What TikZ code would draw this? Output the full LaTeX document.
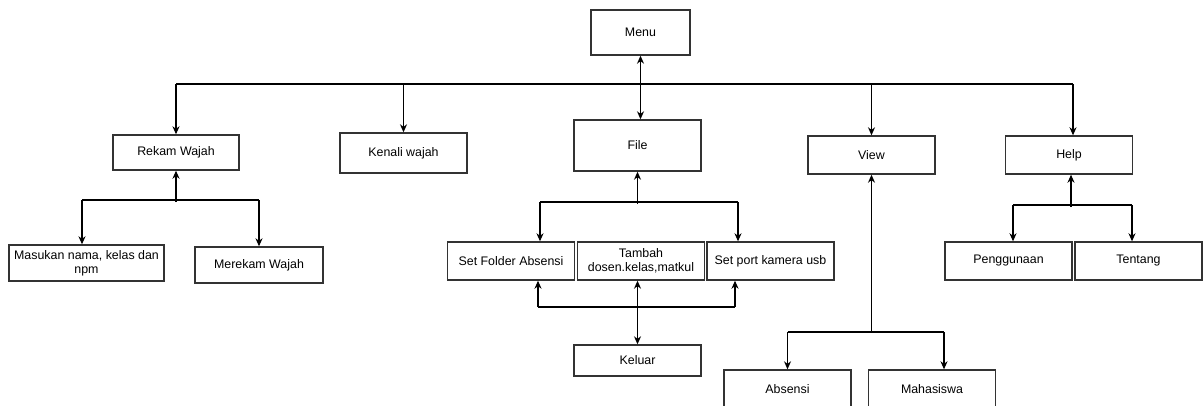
\documentclass[tikz,border=0pt]{standalone}
\usepackage{fontspec}
\setmainfont{Liberation Sans}
\usetikzlibrary{arrows.meta}

\tikzset{
  box/.style={draw=black!80, line width=1.4pt, fill=white, minimum width=127pt, minimum height=38pt,
    inner sep=1pt, align=center, font=\fontsize{12.4}{14}\selectfont},
  arr/.style={line width=1.2pt, -{Stealth[length=8pt, width=7pt, inset=2.5pt]}},
  darr/.style={line width=1.2pt, {Stealth[length=8pt, width=7pt, inset=2.5pt]}-{Stealth[length=8pt, width=7pt, inset=2.5pt]}},
  ln/.style={line width=1.2pt}
}

\begin{document}
\begin{tikzpicture}[x=1pt, y=-1pt]
\useasboundingbox (0,0) rectangle (1204,405);

\node (menu) at (640.5, 32.5) [box, minimum width=99pt, minimum height=45pt] {Menu};

\node (rekam) at (176, 152.5) [box, minimum width=126pt, minimum height=35pt] {Rekam Wajah};
\node (kenali) at (403.5, 153) [box, minimum height=40pt] {Kenali wajah};
\node (file) at (637.5, 145.5) [box, minimum height=51pt] {File};
\node (view) at (871.5, 155) [box] {View};
\node (help) at (1069, 155) [box] {Help};

\node (masukan) at (86.5, 263) [box, minimum width=155pt, minimum height=36pt] {Masukan nama, kelas dan\\npm};
\node (merekam) at (259, 265) [box, minimum width=128pt, minimum height=36pt] {Merekam Wajah};

\node (folder) at (511, 261) [box] {Set Folder Absensi};
\node (tambah) at (641, 261) [box] {Tambah\\dosen.kelas,matkul};
\node (port) at (770.5, 261) [box] {Set port kamera usb};
\node (keluar) at (637.5, 360.5) [box, minimum height=31pt] {Keluar};

\node (absensi) at (787.5, 389) [box] {Absensi};
\node (mhs) at (932, 389) [box] {Mahasiswa};

\node (guna) at (1008.5, 261) [box] {Penggunaan};
\node (tentang) at (1138.5, 261) [box] {Tentang};

% menu bar
\coordinate (bus) at (640.5, 84);
\draw[darr] (menu.south) -- (menu.south |- file.north);
\draw[ln] (rekam.north |- bus) -- ([xshift=4pt]help.north |- bus);
\draw[arr] (rekam.north |- bus) -- (rekam.north);
\draw[arr] (kenali.north |- bus) -- (kenali.north);
\draw[arr] (view.north |- bus) -- (view.north);
\draw[arr] ([xshift=4pt]help.north |- bus) -- ([xshift=4pt]help.north);

% rekam wajah
\coordinate (rb) at (176, 200);
\draw[arr] ([yshift=-2pt]rb) -- (rekam.south);
\draw[ln] ([xshift=-4.5pt]masukan.north |- rb) -- (merekam.north |- rb);
\draw[arr] ([xshift=-4.5pt]masukan.north |- rb) -- ([xshift=-4.5pt]masukan.north);
\draw[arr] (merekam.north |- rb) -- (merekam.north);

% file
\coordinate (fb) at (637.5, 202);
\draw[arr] ([yshift=-2pt]fb) -- (file.south);
\draw[ln] ([xshift=29pt]folder.north |- fb) -- ([xshift=-32.5pt]port.north |- fb);
\draw[arr] ([xshift=29pt]folder.north |- fb) -- ([xshift=29pt]folder.north);
\draw[arr] ([xshift=-32.5pt]port.north |- fb) -- ([xshift=-32.5pt]port.north);

\coordinate (kb) at (637.5, 307);
\draw[darr] (keluar.north |- tambah.south) -- (keluar.north);
\draw[ln] ([xshift=27pt]folder.south |- kb) -- ([xshift=-35.5pt]port.south |- kb);
\draw[arr] ([xshift=27pt]folder.south |- kb) -- ([xshift=27pt]folder.south);
\draw[arr] ([xshift=-35.5pt]port.south |- kb) -- ([xshift=-35.5pt]port.south);

% view
\coordinate (vb) at (871.5, 332);
\draw[arr] (vb) -- (view.south);
\draw[ln] (absensi.north |- vb) -- ([xshift=12pt]mhs.north |- vb);
\draw[arr] (absensi.north |- vb) -- (absensi.north);
\draw[arr] ([xshift=12pt]mhs.north |- vb) -- ([xshift=12pt]mhs.north);

% help
\coordinate (hb) at (1071, 205);
\draw[arr] ([yshift=-2pt]hb) -- (hb |- help.south);
\draw[ln] ([xshift=4.5pt]guna.north |- hb) -- ([xshift=-6.5pt]tentang.north |- hb);
\draw[arr] ([xshift=4.5pt]guna.north |- hb) -- ([xshift=4.5pt]guna.north);
\draw[arr] ([xshift=-6.5pt]tentang.north |- hb) -- ([xshift=-6.5pt]tentang.north);
\end{tikzpicture}
\end{document}
